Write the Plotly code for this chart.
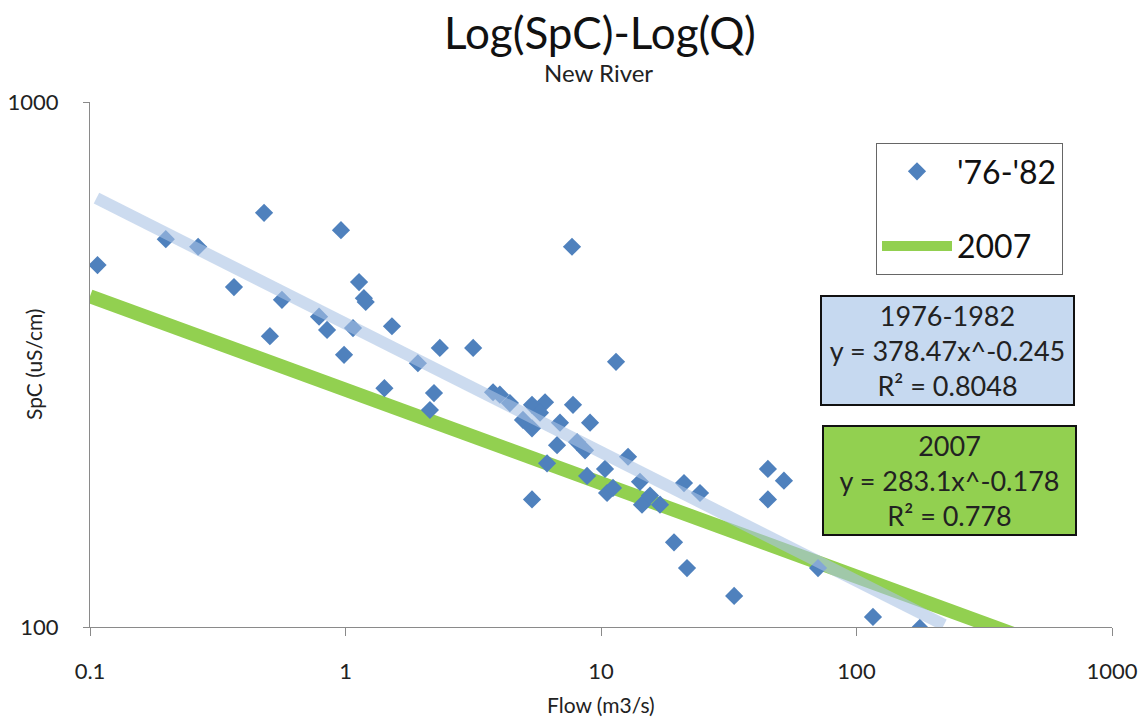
import numpy as np
import plotly.graph_objects as go

flow_7682 = [0.107, 0.198, 0.265, 0.366, 0.480, 0.506, 0.564, 0.788, 0.847, 0.960,
             0.987, 1.07, 1.13, 1.18, 1.20, 1.42, 1.52, 1.92, 2.14, 2.22,
             2.34, 3.16, 3.78, 4.02, 4.40, 5.37, 6.04, 5.77, 4.95, 5.37,
             7.77, 6.91, 9.06, 6.73, 8.06, 8.66, 6.15, 5.37, 7.70, 11.45,
             10.37, 8.82, 12.76, 10.56, 11.14, 14.21, 14.47, 17.02, 21.13, 24.41,
             19.31, 21.71, 33.2, 45.0, 52.0, 45.0, 70.7, 116.0, 177.0, 15.55]
spc_7682 = [489, 548, 530, 444, 615, 358, 420, 390, 368, 570,
            330, 371, 454, 423, 416, 285, 374, 318, 259, 279,
            340, 340, 280, 277, 267, 265, 268, 256, 248, 239,
            265, 245, 245, 222, 225, 217, 205, 175, 530, 320,
            200, 194, 211, 180, 184, 189, 171, 171, 188, 180,
            145, 129.5, 114.6, 200, 190, 175, 129.5, 104.5, 99.6, 178]

# Power-law trend parameters (from the chart's labels)
a_7682, b_7682 = 378.47, -0.245
a_2007, b_2007 = 283.1, -0.178
trend_7682_range = [0.106, 220]
trend_2007_range = [0.1, 1000]

x_ticks = [0.1, 1, 10, 100, 1000]
x_ticktext = ["0.1", "1", "10", "100", "1000"]
y_ticks = [100, 1000]
y_ticktext = ["100", "1000"]

FONT = "Lato"
L, R, T, B = 90, 34, 102, 94
W, H = 1146, 721
PW, PH = W - L - R, H - T - B


def px(xp, yp):
    """pixel -> paper coordinates (for text placement only)"""
    return (xp - L) / PW, (H - B - yp) / PH


xt1 = np.logspace(np.log10(trend_7682_range[0]), np.log10(trend_7682_range[1]), 60)
yt1 = a_7682 * xt1 ** b_7682
xt2 = np.logspace(np.log10(trend_2007_range[0]), np.log10(trend_2007_range[1]), 60)
yt2 = a_2007 * xt2 ** b_2007

fig = go.Figure()
fig.add_trace(go.Scatter(x=xt2, y=yt2, mode="lines", name="2007",
                         line=dict(color="#92d050", width=14),
                         legendrank=2, legendgroup="b", hoverinfo="skip"))
fig.add_trace(go.Scatter(x=flow_7682, y=spc_7682, mode="markers", name="'76-'82",
                         marker=dict(symbol="diamond", size=14, color="#4f81bd"),
                         legendrank=1, legendgroup="a"))
fig.add_trace(go.Scatter(x=xt1, y=yt1, mode="lines", showlegend=False,
                         line=dict(color="rgba(170,195,228,0.6)", width=12),
                         hoverinfo="skip"))

fig.update_layout(
    width=W, height=H,
    margin=dict(l=L, r=R, t=T, b=B, autoexpand=False),
    paper_bgcolor="white", plot_bgcolor="white",
    font=dict(family=FONT, color="#222222", size=22),
    xaxis=dict(type="log", range=[-1, 3], tickvals=x_ticks, ticktext=x_ticktext,
               showgrid=False, showline=True, linecolor="#8a8a8a", linewidth=1,
               ticks="outside", ticklen=8, tickcolor="#8a8a8a",
               ticklabelstandoff=17, zeroline=False, automargin=False,
               tickfont=dict(size=22)),
    yaxis=dict(type="log", range=[2, 3], tickvals=y_ticks, ticktext=y_ticktext,
               showgrid=True, gridcolor="#8a8a8a", gridwidth=1,
               showline=True, linecolor="#8a8a8a", linewidth=1,
               ticks="outside", ticklen=6, tickcolor="#8a8a8a",
               ticklabelstandoff=20, zeroline=False, automargin=False,
               tickfont=dict(size=22)),
    legend=dict(x=px(876, 0)[0], y=px(0, 143)[1], xanchor="left", yanchor="top",
                bgcolor="white", bordercolor="#666666", borderwidth=1,
                font=dict(size=32, family=FONT, color="#111111"),
                traceorder="grouped", tracegroupgap=30, itemwidth=70),
    showlegend=True,
)

# Titles
tx, ty = px(600, 32)
fig.add_annotation(xref="paper", yref="paper", x=tx, y=ty, text="Log(SpC)-Log(Q)",
                   showarrow=False, xanchor="center", yanchor="middle",
                   font=dict(size=44, family=FONT, color="#111111"))
sx, sy = px(598, 73)
fig.add_annotation(xref="paper", yref="paper", x=sx, y=sy, text="New River",
                   showarrow=False, xanchor="center", yanchor="middle",
                   font=dict(size=24, family=FONT, color="#222222"))
ax_, ay_ = px(601, 704)
fig.add_annotation(xref="paper", yref="paper", x=ax_, y=ay_, text="Flow (m3/s)",
                   showarrow=False, xanchor="center", yanchor="middle",
                   font=dict(size=21, family=FONT, color="#222222"))
yx_, yy_ = px(33, 365)
fig.add_annotation(xref="paper", yref="paper", x=yx_, y=yy_, text="SpC (uS/cm)",
                   showarrow=False, xanchor="center", yanchor="middle", textangle=-90,
                   font=dict(size=21, family=FONT, color="#222222"))

bx, by = px(947.5, 350.5)
fig.add_annotation(xref="paper", yref="paper", x=bx, y=by,
                   text="1976-1982<br>y = 378.47x^-0.245<br>R² = 0.8048",
                   showarrow=False, align="center", xanchor="center", yanchor="middle",
                   width=249, height=105, bgcolor="#c6d9f0", bordercolor="#111111",
                   borderwidth=2, font=dict(size=27, family=FONT, color="#222222"))
gx, gy = px(949, 481)
fig.add_annotation(xref="paper", yref="paper", x=gx, y=gy,
                   text="2007<br>y = 283.1x^-0.178<br>R² = 0.778",
                   showarrow=False, align="center", xanchor="center", yanchor="middle",
                   width=249, height=105, bgcolor="#92d050", bordercolor="#111111",
                   borderwidth=2, font=dict(size=27, family=FONT, color="#222222"))

fig.write_html("out.html")
